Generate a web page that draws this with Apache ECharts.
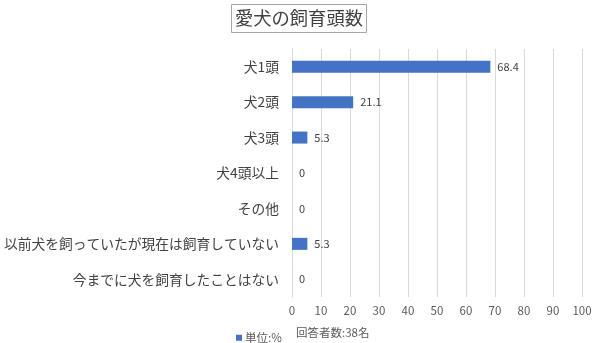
<!DOCTYPE html>
<html><head><meta charset="utf-8">
<script src="https://cdn.jsdelivr.net/npm/echarts@6/dist/echarts.min.js"></script>
<style>html,body{margin:0;padding:0;background:#fff}#c{width:600px;height:343px}</style>
</head><body><div id="c"></div>
<script>
const categories = ['犬1頭','犬2頭','犬3頭','犬4頭以上','その他','以前犬を飼っていたが現在は飼育していない','今までに犬を飼育したことはない'];
const values = [68.4, 21.1, 5.3, 0, 0, 5.3, 0];
const xTicks = [0,10,20,30,40,50,60,70,80,90,100];
const titleText = '愛犬の飼育頭数';
const seriesName = '単位:%';
const noteText = '回答者数:38名';
const font = '"Noto Sans CJK JP", sans-serif';
const chart = echarts.init(document.getElementById('c'), null, {renderer:'canvas'});
chart.setOption({
  animation:false,
  textStyle:{fontFamily:font},
  title:{text:titleText, left:231, top:4, padding:[5,4,5,4], borderColor:'#a6a6a6', borderWidth:1,
    textStyle:{fontSize:18.3, fontWeight:'normal', color:'#404040', fontFamily:font}},
  legend:{data:[seriesName], left:231, top:327, itemWidth:6, itemHeight:6, itemGap:4, icon:'rect',
    textStyle:{fontSize:11.5, color:'#595959', fontFamily:font, padding:[0,0,0,-2]}},
  graphic:[{type:'text', left:296, top:327, style:{text:noteText, fontSize:11.5, fill:'#595959', fontFamily:font}}],
  grid:{left:292, right:18, top:49, bottom:46, containLabel:false},
  xAxis:{type:'value', min:xTicks[0], max:xTicks[xTicks.length-1], interval:10,
    axisLine:{show:false}, axisTick:{show:false},
    splitLine:{show:true, lineStyle:{color:'#d9d9d9', width:1}},
    axisLabel:{fontSize:11.5, color:'#595959', margin:8, fontFamily:font}},
  yAxis:{type:'category', data:categories, inverse:true,
    axisLine:{show:true, lineStyle:{color:'#d9d9d9'}}, axisTick:{show:false},
    axisLabel:{fontSize:13.75, color:'#404040', margin:13, fontFamily:font}},
  series:[{name:seriesName, type:'bar', data:values, barWidth:12,
    itemStyle:{color:'#4472C4'},
    label:{show:true, position:'right', distance:7, fontSize:11, color:'#404040', fontFamily:font}}]
});
</script></body></html>
